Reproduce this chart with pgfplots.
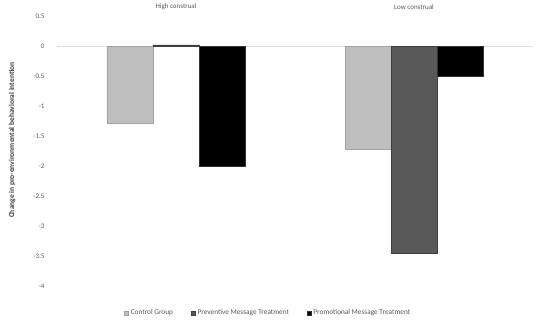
\documentclass[border=0pt]{standalone}
\usepackage{pgfplots}
\pgfplotsset{compat=1.18}
\usepackage{fontspec}
\setmainfont{Carlito}
\definecolor{ctrl}{HTML}{BFBFBF}
\definecolor{prev}{HTML}{595959}
\definecolor{txt}{HTML}{595959}
\begin{document}
\begin{tikzpicture}
\useasboundingbox (0,0) rectangle (536pt,330pt);
\begin{axis}[
  at={(57pt,44pt)}, anchor=south west,
  width=476pt, height=270pt, scale only axis,
  xmin=-0.5, xmax=1.5, ymin=-4, ymax=0.5,
  ybar=0pt, bar width=46pt,
  xtick={0,1}, xticklabels={High construal, Low construal},
  xticklabel pos=right,
  ytick={-4,-3.5,...,0.5},
  yticklabels={-4,-3.5,-3,-2.5,-2,-1.5,-1,-0.5,0,0.5},
  axis line style={draw=none},
  major tick length=0pt,
  tick label style={font=\fontsize{7}{8}\selectfont, text=txt},
  /pgf/number format/assume math mode=true,
  xticklabel style={yshift=3pt},
  yticklabel style={xshift=-9pt},
  extra y ticks={0}, extra y tick labels={},
  extra y tick style={grid=major, major grid style={draw=gray!25, line width=0.6pt}},
  ylabel={\bfseries Change in pro-environmental behavioral intention},
  every axis y label/.style={at={(rel axis cs:-0.08,0.54)}, rotate=90, anchor=south,
    font=\fontsize{7.5}{9}\selectfont, text=black!75},
  legend columns=3,
  legend style={at={(rel axis cs:0.444,-0.1)}, anchor=center, draw=none,
    font=\fontsize{7.3}{8}\selectfont, text=txt,
    /tikz/every even column/.append style={column sep=16pt}},
  legend image code/.code={\fill[#1] (0pt,-2pt) rectangle (4pt,2pt);},
]
\addplot[fill=ctrl, draw=ctrl!85!black, line width=0.4pt] coordinates {(0,-1.28) (1,-1.72)};
\addplot[fill=prev, draw=prev!70!black, line width=0.6pt] coordinates {(0,0.02) (1,-3.46)};
\addplot[fill=black, draw=black!80, line width=0.4pt] coordinates {(0,-2.0) (1,-0.5)};
\legend{Control Group, Preventive Message Treatment, Promotional Message Treatment}
\end{axis}
\end{tikzpicture}
\end{document}
